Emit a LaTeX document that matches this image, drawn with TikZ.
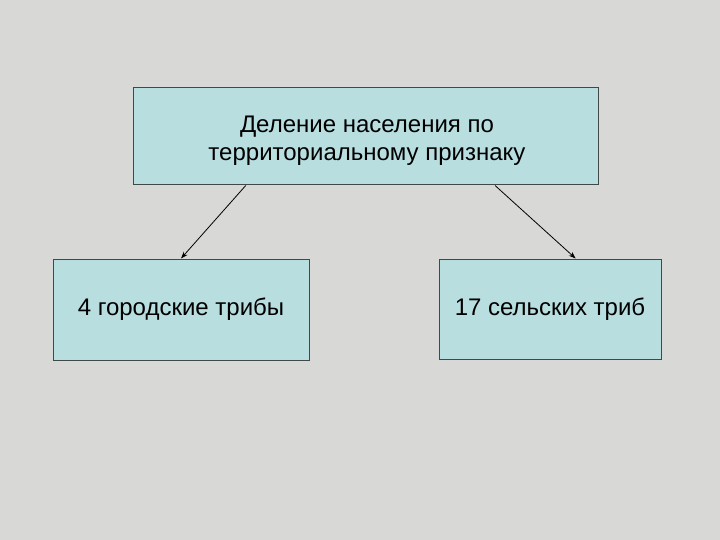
\documentclass[tikz,border=0pt]{standalone}
\usepackage{fontspec}
\setmainfont{Liberation Sans}
\usetikzlibrary{calc,arrows.meta}
\definecolor{bg}{RGB}{216,216,214}
\definecolor{boxfill}{RGB}{184,222,224}
\definecolor{boxline}{RGB}{64,72,72}
\tikzset{
  box/.style={draw=boxline, line width=1pt, fill=boxfill, inner sep=0pt, align=center, font=\fontsize{24pt}{28pt}\selectfont, text height=17pt, text depth=5pt},
  conn/.style={-{Stealth[length=7pt,width=5pt]}, line width=0.8pt, black}
}
\begin{document}
\begin{tikzpicture}[x=1pt,y=-1pt]
\fill[bg] (0,0) rectangle (720,540);
\useasboundingbox (0,0) rectangle (720,540);
\node[box, minimum width=465pt, minimum height=97pt] (top) at (365.5,136.5) {};
\node[font=\fontsize{24pt}{28pt}\selectfont, align=center, inner sep=0pt] (toptext) at (367,141) {Деление населения по\\территориальному признаку};
\node[box, minimum width=256pt, minimum height=101pt] (left) at (181,309.5) {4 городские трибы};
\node[box, minimum width=222pt, minimum height=100pt] (right) at (550,309) {17 сельских триб};
\coordinate (a1) at ($(top.south west)!0.243!(top.south east)$);
\coordinate (a2) at ($(top.south west)!0.778!(top.south east)$);
\coordinate (b2) at ($(right.north west)!0.615!(right.north east)$);
\draw[conn] (a1) -- (left.north);
\draw[conn] (a2) -- (b2);
\end{tikzpicture}
\end{document}
